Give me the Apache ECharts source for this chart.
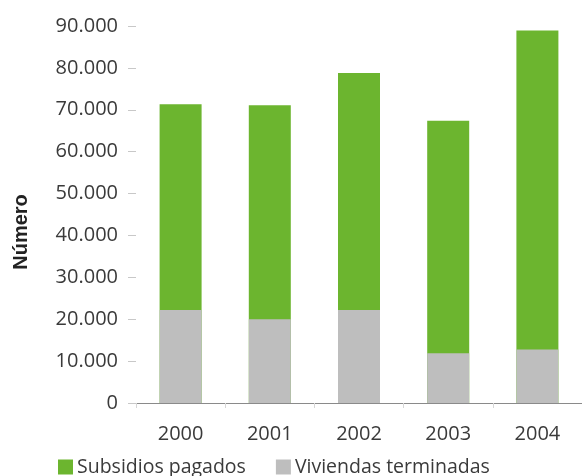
<!DOCTYPE html>
<html>
<head>
<meta charset="utf-8">
<script src="https://cdn.jsdelivr.net/npm/echarts@6/dist/echarts.min.js"></script>
<style>
  html, body { margin: 0; padding: 0; background: #ffffff; }
  #chart { width: 582px; height: 476px; }
</style>
</head>
<body>
<div id="chart"></div>
<script>
// Years on the horizontal axis
const years = ['2000', '2001', '2002', '2003', '2004'];
// Subsidies paid per year (full bar height)
const subsidiosPagados = [71300, 71100, 78800, 67400, 88900];
// Finished dwellings per year (grey portion drawn over the base of each bar)
const viviendasTerminadas = [22200, 20000, 22200, 11900, 12800];
// Vertical axis title
const yTitle = 'Número';

const FONT = '"Open Sans", "Noto Sans", sans-serif';
const GREEN = '#6cb52f';
const GREY = '#bebebe';

const chart = echarts.init(document.getElementById('chart'), null, { renderer: 'canvas' });

chart.setOption({
  backgroundColor: '#ffffff',
  animation: false,
  grid: { left: 136, top: 26, width: 452, bottom: 73, containLabel: false },
  graphic: [
    {
      // rotated axis title, sitting a little below the plot's mid-height
      type: 'text',
      x: 21,
      y: 232,
      rotation: Math.PI / 2,
      style: {
        text: yTitle,
        fill: '#222222',
        font: 'bold 20px "Liberation Sans", Arial, sans-serif',
        textAlign: 'center',
        textVerticalAlign: 'middle'
      }
    }
  ],
  legend: {
    left: 53,
    top: 452,
    itemWidth: 15,
    itemHeight: 15,
    itemGap: 30,
    icon: 'rect',
    textStyle: { fontFamily: FONT, fontSize: 19.5, color: '#3a3a3a', padding: [0, 0, 0, -1] },
    data: ['Subsidios pagados', 'Viviendas terminadas']
  },
  xAxis: {
    type: 'category',
    data: years,
    axisLine: { show: true, lineStyle: { color: '#8a8a8a', width: 1 } },
    axisTick: { show: true, length: 5, lineStyle: { color: '#d6d6d6' } },
    axisLabel: { fontFamily: FONT, fontSize: 20, color: '#3a3a3a', margin: 21 }
  },
  yAxis: {
    type: 'value',
    min: 0,
    max: 90000,
    interval: 10000,
    axisLine: { show: false },
    axisTick: { show: true, length: 8, lineStyle: { color: '#c8c8c8' } },
    splitLine: { show: false },
    axisLabel: {
      fontFamily: FONT,
      fontSize: 20,
      color: '#3a3a3a',
      margin: 18,
      formatter: function (v) {
        return v === 0 ? '0' : v.toLocaleString('de-DE');
      }
    }
  },
  series: [
    {
      name: 'Subsidios pagados',
      type: 'bar',
      barWidth: 42,
      itemStyle: { color: GREEN },
      data: subsidiosPagados
    },
    {
      name: 'Viviendas terminadas',
      type: 'bar',
      barWidth: 42,
      barGap: '-100%',
      itemStyle: { color: GREY },
      data: viviendasTerminadas
    }
  ]
});
</script>
</body>
</html>
